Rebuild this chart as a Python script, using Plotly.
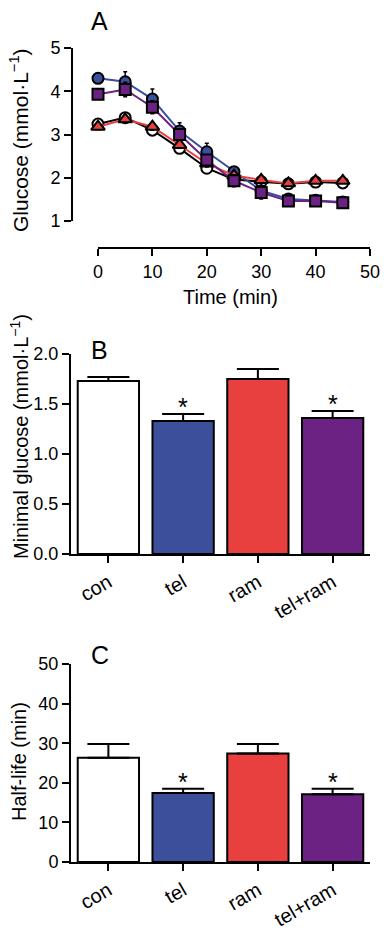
import plotly.graph_objects as go

W, H = 384, 931

# ---------------- data ----------------
time_min = [0, 5, 10, 15, 20, 25, 30, 35, 40, 45]
glc_con = [3.24, 3.39, 3.10, 2.68, 2.22, 1.96, 1.91, 1.86, 1.90, 1.88]
glc_tel = [4.30, 4.22, 3.82, 3.08, 2.60, 2.14, 1.70, 1.51, 1.48, 1.44]
glc_ram = [3.18, 3.35, 3.18, 2.76, 2.33, 2.05, 1.95, 1.87, 1.93, 1.93]
glc_telram = [3.93, 4.04, 3.63, 3.00, 2.41, 1.93, 1.66, 1.46, 1.46, 1.42]
sem_con = [0.06, 0.06, 0.08, 0.08, 0.08, 0.06, 0.06, 0.05, 0.05, 0.05]
sem_tel = [0.08, 0.23, 0.23, 0.19, 0.20, 0.10, 0.19, 0.08, 0.06, 0.05]
sem_ram = [0.06, 0.06, 0.08, 0.08, 0.08, 0.06, 0.05, 0.05, 0.05, 0.05]
sem_telram = [0.08, 0.17, 0.15, 0.12, 0.12, 0.14, 0.10, 0.06, 0.05, 0.05]

groups = ["con", "tel", "ram", "tel+ram"]
min_glucose = [1.73, 1.33, 1.75, 1.36]
min_glucose_sem = [0.04, 0.07, 0.10, 0.07]
half_life = [26.3, 17.4, 27.4, 17.1]
half_life_sem = [3.5, 1.1, 2.4, 1.4]
significant = [False, True, False, True]

# ---------------- styles ----------------
BLACK = "#000000"
BLUE = "#3B4F9A"
RED = "#E8403F"
PURPLE = "#6B2282"
WHITE = "#FFFFFF"
bar_colors = [WHITE, BLUE, RED, PURPLE]
FONT = "Liberation Sans, Arial, sans-serif"


def xf(px):
    return px / W


def yf(py):
    return 1 - py / H


fig = go.Figure()

# ---------------- panel A ----------------
series = [
    ("con", glc_con, sem_con, BLACK, WHITE, "circle"),
    ("tel", glc_tel, sem_tel, BLUE, BLUE, "circle"),
    ("ram", glc_ram, sem_ram, RED, RED, "triangle-up"),
    ("tel+ram", glc_telram, sem_telram, PURPLE, PURPLE, "square"),
]
for name, vals, sem, lc, fc, sym in series:
    fig.add_trace(go.Scatter(
        x=time_min, y=vals, name=name, mode="lines+markers",
        line=dict(color=lc, width=2),
        marker=dict(symbol=sym, size=11 if sym != "triangle-up" else 12,
                    color=fc, line=dict(color=BLACK, width=2)),
        error_y=dict(type="data", array=sem, color=BLACK, thickness=1.5, width=2),
        cliponaxis=False, xaxis="x", yaxis="y", showlegend=False,
    ))

# ---------------- panel B ----------------
fig.add_trace(go.Bar(
    x=list(range(len(groups))), y=min_glucose, width=0.82,
    marker=dict(color=bar_colors, line=dict(color=BLACK, width=2)),
    error_y=dict(type="data", array=min_glucose_sem, arrayminus=[0] * 4,
                 symmetric=False, color=BLACK, thickness=2, width=21),
    xaxis="x2", yaxis="y2", showlegend=False, cliponaxis=False,
))

# ---------------- panel C ----------------
fig.add_trace(go.Bar(
    x=list(range(len(groups))), y=half_life, width=0.82,
    marker=dict(color=bar_colors, line=dict(color=BLACK, width=2)),
    error_y=dict(type="data", array=half_life_sem, arrayminus=[0] * 4,
                 symmetric=False, color=BLACK, thickness=2, width=21),
    xaxis="x3", yaxis="y3", showlegend=False, cliponaxis=False,
))

axis_common = dict(showline=True, linecolor=BLACK, linewidth=2, ticks="outside",
                   ticklen=7, tickwidth=2, tickcolor=BLACK, showgrid=False,
                   zeroline=False, tickfont=dict(family=FONT, size=18, color=BLACK),
                   automargin=False)
cat_font = dict(family=FONT, size=20, color=BLACK)

ann = []
# significance asterisks
for xa, ya, vals, sems in [("x2", "y2", min_glucose, min_glucose_sem),
                           ("x3", "y3", half_life, half_life_sem)]:
    for i, sig in enumerate(significant):
        if sig:
            ann.append(dict(x=i, y=vals[i] + sems[i], xref=xa, yref=ya, text="*",
                            showarrow=False, yanchor="middle", yshift=7,
                            font=dict(family=FONT, size=25, color=BLACK)))

# panel letters
for letter, py in [("A", 21), ("B", 350), ("C", 655)]:
    ann.append(dict(x=xf(89), y=yf(py), xref="paper", yref="paper", text=letter,
                    showarrow=False, xanchor="left", yanchor="middle",
                    font=dict(family=FONT, size=25, color=BLACK)))

# axis titles
ann.append(dict(x=xf(19), y=yf(140), xref="paper", yref="paper",
                text="Glucose (mmol·L<sup>−1</sup>)", textangle=-90, showarrow=False,
                xanchor="center", yanchor="middle",
                font=dict(family=FONT, size=21, color=BLACK)))
ann.append(dict(x=xf(230), y=yf(297), xref="paper", yref="paper",
                text="Time (min)", showarrow=False, xanchor="center", yanchor="middle",
                font=dict(family=FONT, size=20, color=BLACK)))
ann.append(dict(x=xf(19), y=yf(437), xref="paper", yref="paper",
                text="Minimal glucose (mmol·L<sup>−1</sup>)", textangle=-90,
                showarrow=False, xanchor="center", yanchor="middle",
                font=dict(family=FONT, size=20, color=BLACK)))
ann.append(dict(x=xf(19), y=yf(762), xref="paper", yref="paper",
                text="Half-life (min)", textangle=-90, showarrow=False,
                xanchor="center", yanchor="middle",
                font=dict(family=FONT, size=20, color=BLACK)))

fig.update_layout(
    width=W, height=H, autosize=False,
    margin=dict(l=0, r=0, t=0, b=0),
    paper_bgcolor=WHITE, plot_bgcolor=WHITE,
    font=dict(family=FONT, color=BLACK),
    xaxis=dict(**axis_common, domain=[xf(98), xf(370)], range=[0, 50],
               tickvals=[0, 10, 20, 30, 40, 50], anchor="free", position=yf(248)),
    yaxis=dict(**axis_common, domain=[yf(221), yf(48)], range=[1, 5],
               tickvals=[1, 2, 3, 4, 5], anchor="free", position=xf(72)),
    xaxis2=dict(**{**axis_common, "tickfont": cat_font}, domain=[xf(71), xf(370)],
                range=[-0.5, 3.5], tickvals=list(range(len(groups))), ticktext=groups,
                tickangle=-30, anchor="y2"),
    yaxis2=dict(**axis_common, domain=[yf(554), yf(354)], range=[0, 2.0],
                tickvals=[0, 0.5, 1.0, 1.5, 2.0], tickformat=".1f", anchor="x2"),
    xaxis3=dict(**{**axis_common, "tickfont": cat_font}, domain=[xf(71), xf(370)],
                range=[-0.5, 3.5], tickvals=list(range(len(groups))), ticktext=groups,
                tickangle=-30, anchor="y3"),
    yaxis3=dict(**axis_common, domain=[yf(862), yf(664)], range=[0, 50],
                tickvals=[0, 10, 20, 30, 40, 50], anchor="x3"),
    annotations=ann,
)

fig.write_html(
    "out.html",
    config={"displayModeBar": False},
    post_script="document.body.style.margin='0px';document.body.style.overflow='hidden';",
)
